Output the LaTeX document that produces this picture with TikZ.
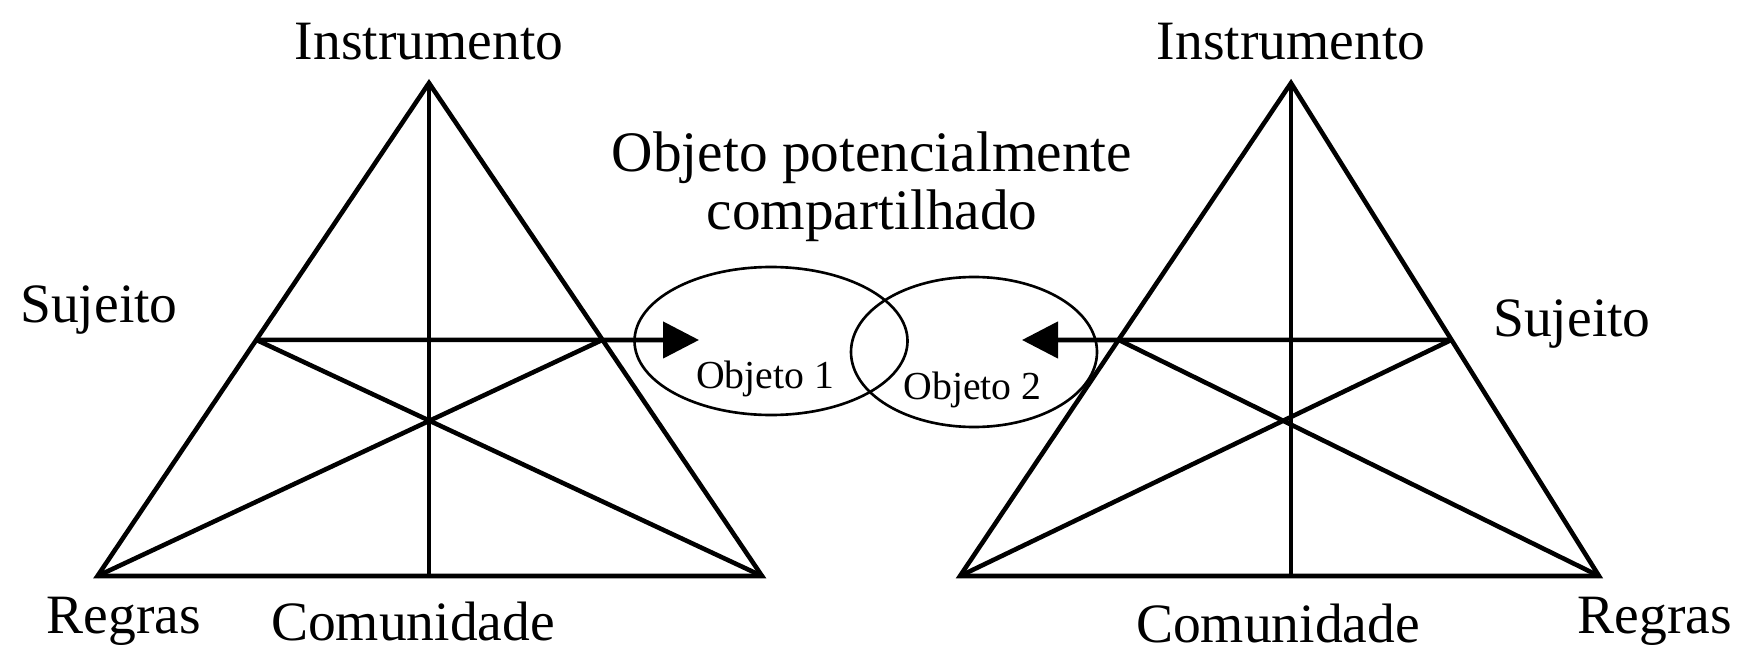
\documentclass[tikz,border=0pt]{standalone}
\usepackage{fontspec}
\setmainfont{Liberation Serif}
\usetikzlibrary{calc,arrows.meta,shapes.geometric}

\begin{document}
\begin{tikzpicture}[line join=miter,
   edge/.style={line width=1.3pt},
   corner/.style={font=\fontsize{15.8}{18}\selectfont,inner sep=0pt},
   small/.style={font=\fontsize{11.3}{13}\selectfont,inner sep=0pt},
   objring/.style={draw,ellipse,line width=0.75pt,inner sep=0pt},
   toobj/.style={edge,-{Triangle[length=0.36cm,width=0.36cm]}}]
\useasboundingbox (0,0) rectangle (17.38,6.52);
% left system
\coordinate (lapex) at (4.29,5.69);
\coordinate (lbl) at (0.975,0.76);
\coordinate (lbr) at (7.62,0.76);
\coordinate (lsuj) at ($(lbl)!0.479!(lapex)$);
\coordinate (lside) at ($(lbr)!0.479!(lapex)$);
\coordinate (lfoot) at (lapex |- lbl);
\draw[edge] (lapex) -- (lbl) -- (lbr) -- cycle;
\draw[edge] (lapex) -- (lfoot);
\draw[edge] (lsuj) -- (lbr);
\draw[edge] (lside) -- (lbl);
% right system
\coordinate (rapex) at (12.91,5.69);
\coordinate (rbl) at (9.60,0.76);
\coordinate (rbr) at (15.99,0.76);
\coordinate (rside) at ($(rbl)!0.479!(rapex)$);
\coordinate (rsuj) at ($(rbr)!0.479!(rapex)$);
\coordinate (rfoot) at (rapex |- rbl);
\draw[edge] (rapex) -- (rbl) -- (rbr) -- cycle;
\draw[edge] (rapex) -- (rfoot);
\draw[edge] (rsuj) -- (rbl);
\draw[edge] (rside) -- (rbr);
% shared object
\node[objring,minimum width=2.73cm,minimum height=1.48cm] (obj1) at (7.71,3.11) {};
\node[objring,minimum width=2.46cm,minimum height=1.50cm] (obj2) at (9.74,3.00) {};
\node[small] (obj1lab) at (7.65,2.73) {Objeto 1};
\node[small] (obj2lab) at (9.725,2.62) {Objeto 2};
\coordinate (tip1) at (6.99,3.12);
\coordinate (tip2) at (10.22,3.12);
\draw[toobj] (lsuj) -- (tip1);
\draw[toobj] (rsuj) -- (tip2);
\node[font=\fontsize{16.3}{16.5}\selectfont,align=center,inner sep=0pt] (shared) at (8.72,4.65)
   {Objeto potencialmente\\compartilhado};
% labels
\node[corner] (linstr) at (4.29,6.10) {Instrumento};
\node[corner] (lsujlab) at (0.99,3.42) {Sujeito};
\node[corner] (lregras) at (1.24,0.31) {Regras};
\node[corner] (lcom) at (4.13,0.31) {Comunidade};
\node[corner] (rinstr) at (12.91,6.10) {Instrumento};
\node[corner] (rsujlab) at (15.72,3.28) {Sujeito};
\node[corner] (rcom) at (12.78,0.28) {Comunidade};
\node[corner] (rregras) at (16.55,0.31) {Regras};
\end{tikzpicture}
\end{document}
